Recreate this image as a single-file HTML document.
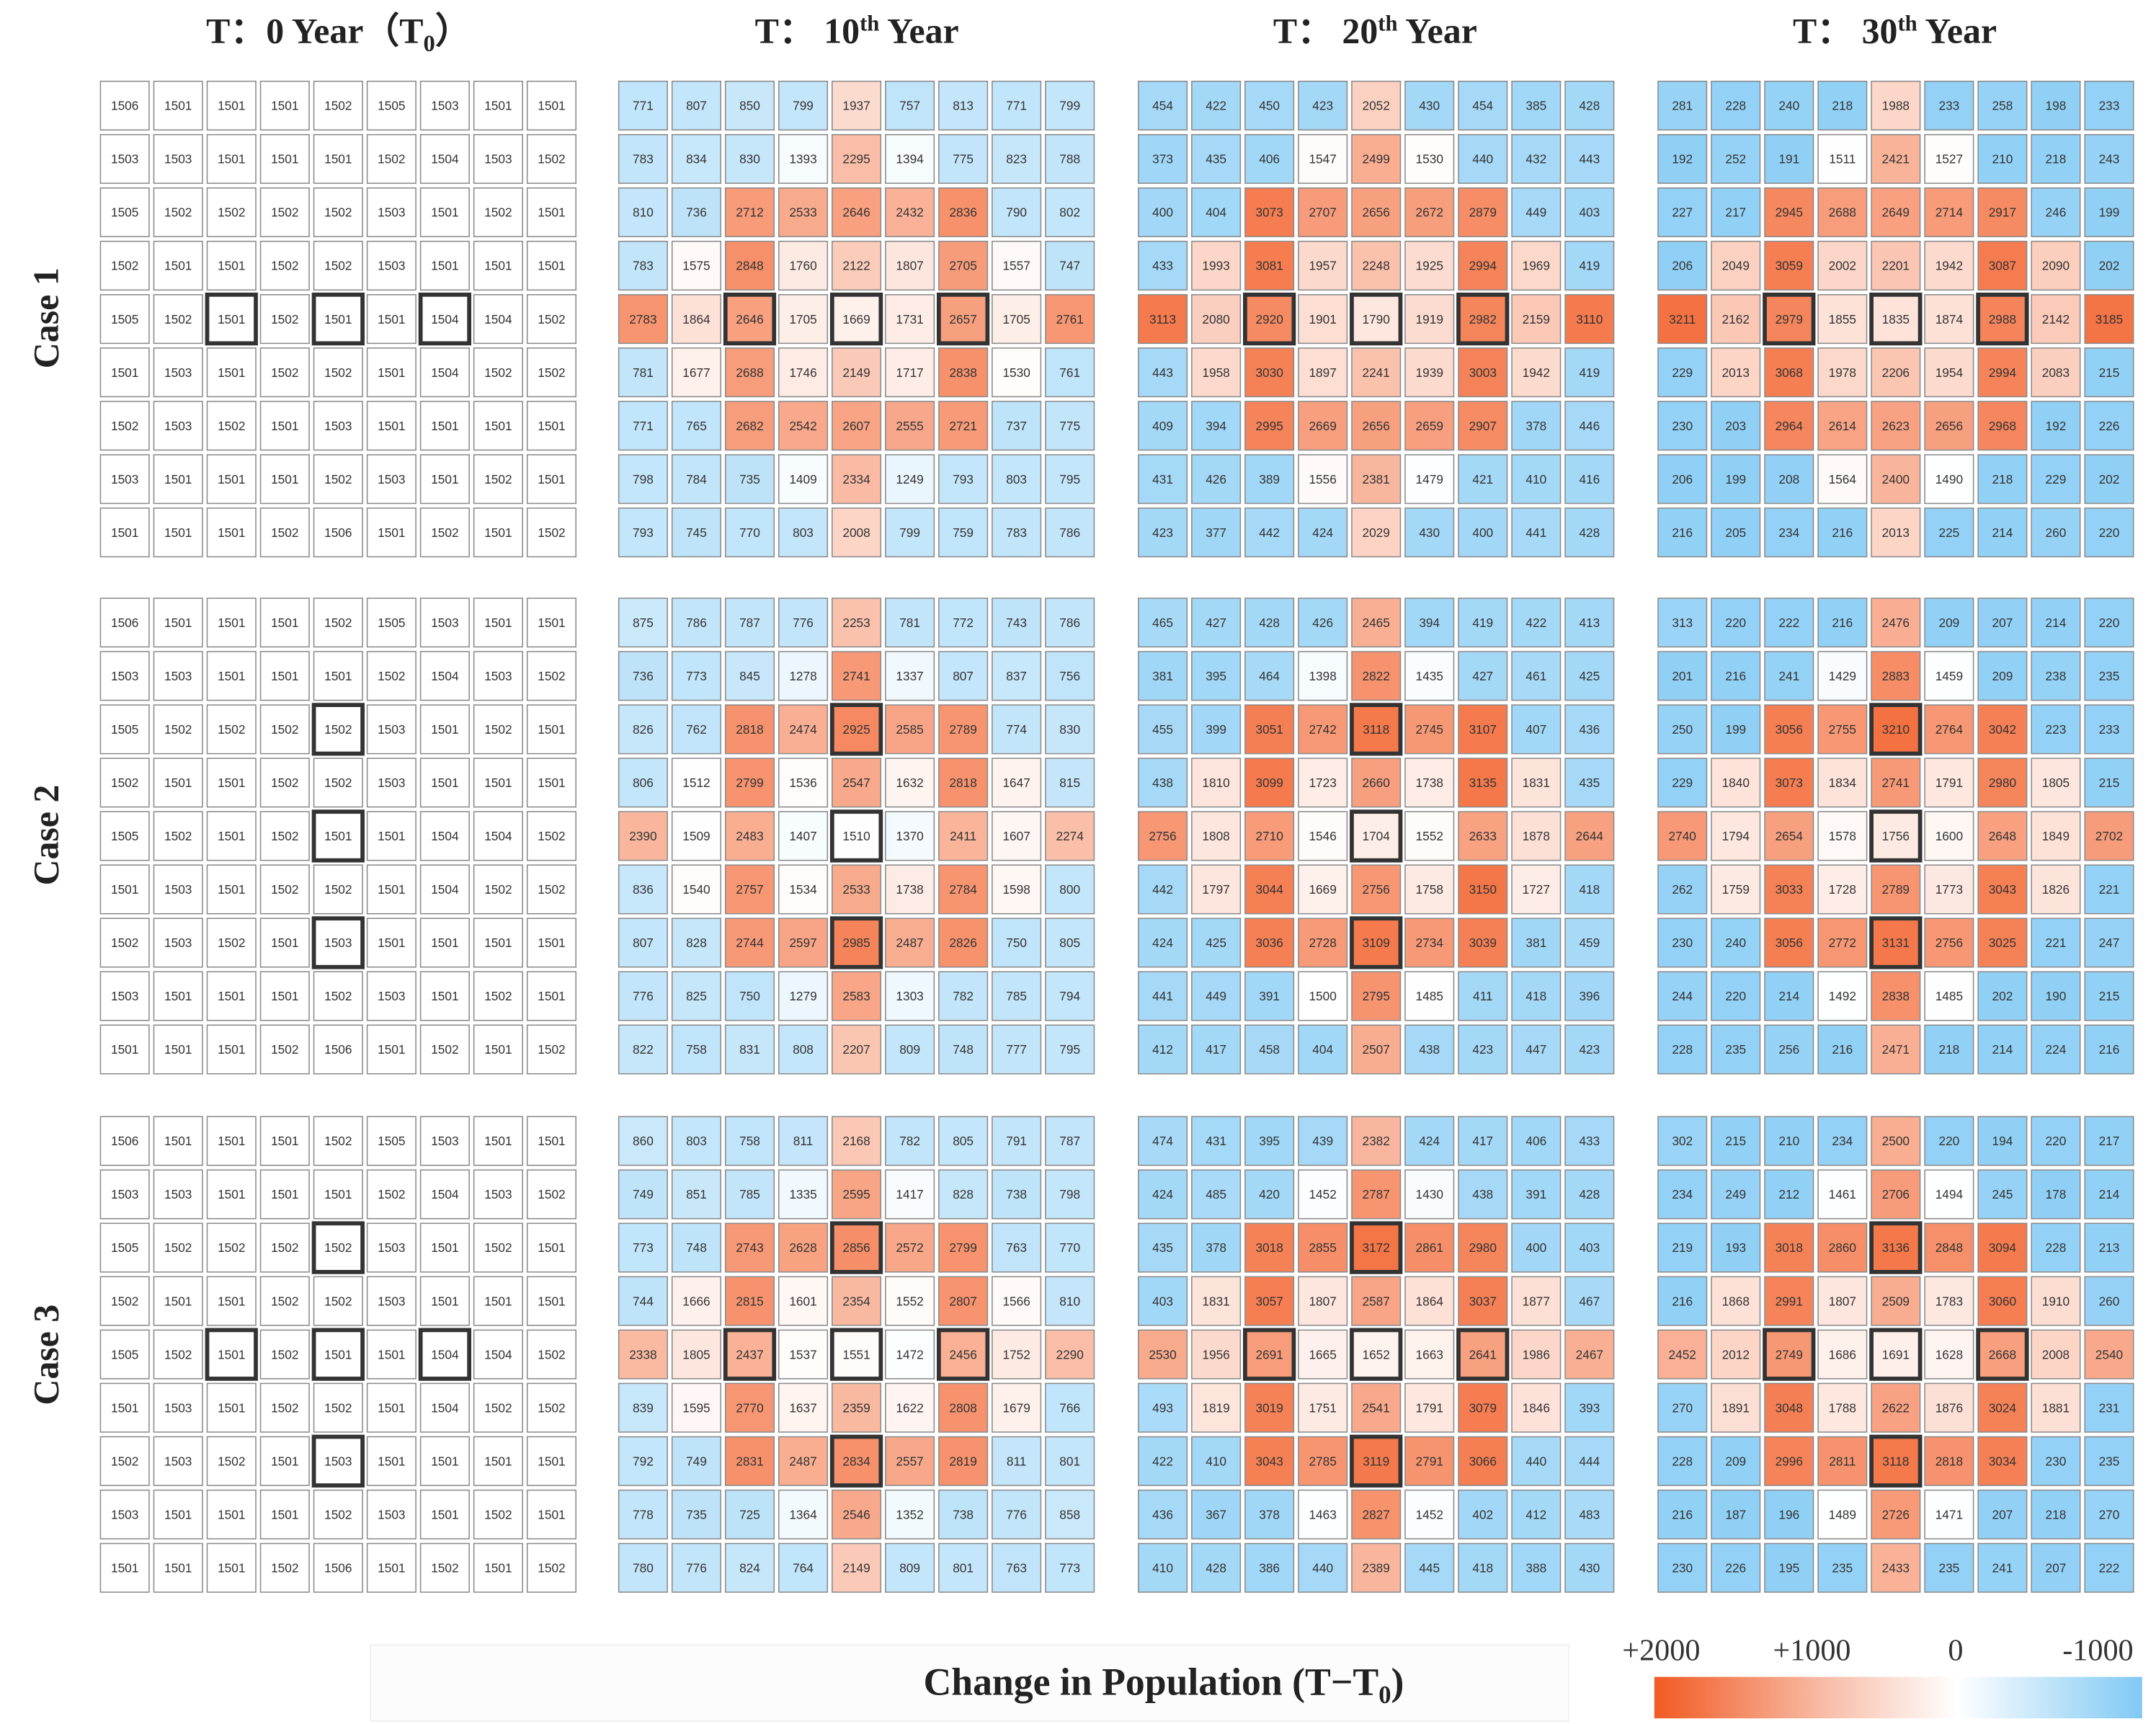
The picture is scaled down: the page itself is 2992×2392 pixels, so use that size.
<!DOCTYPE html>
<html><head><meta charset="utf-8"><style>
html,body{margin:0;padding:0;background:#fff}
svg{display:block}
</style></head><body>
<svg id="chart" xmlns="http://www.w3.org/2000/svg" width="2992" height="2392" viewBox="0 0 1560 1247">
<defs>
<linearGradient id="cbar" x1="0" x2="1" y1="0" y2="0">
<stop offset="0" stop-color="#f25a22"/><stop offset="0.33" stop-color="#f7b7a0"/><stop offset="0.62" stop-color="#ffffff"/><stop offset="1" stop-color="#80c9f4"/>
</linearGradient>
</defs>
<g font-family="Liberation Serif, serif" font-weight="bold" fill="#222" font-size="26">
<text x="245" y="31" text-anchor="middle">T：0 Year（T<tspan font-size="17" dy="6">0</tspan><tspan dy="-6">）</tspan></text>
<text x="620" y="31" text-anchor="middle">T： 10<tspan font-size="16" dy="-9">th</tspan><tspan dy="9"> Year</tspan></text>
<text x="995" y="31" text-anchor="middle">T： 20<tspan font-size="16" dy="-9">th</tspan><tspan dy="9"> Year</tspan></text>
<text x="1371" y="31" text-anchor="middle">T： 30<tspan font-size="16" dy="-9">th</tspan><tspan dy="9"> Year</tspan></text>
<text transform="translate(42,230) rotate(-90)" text-anchor="middle">Case 1</text>
<text transform="translate(42,604) rotate(-90)" text-anchor="middle">Case 2</text>
<text transform="translate(42,980) rotate(-90)" text-anchor="middle">Case 3</text>
</g>
<rect x="268" y="1190" width="867" height="55" fill="#fcfcfc" stroke="#f0f0f0"/>
<text x="842" y="1226" text-anchor="middle" font-family="Liberation Serif, serif" font-weight="bold" font-size="28" fill="#222">Change in Population (T−T<tspan font-size="18" dy="6">0</tspan><tspan dy="-6">)</tspan></text>
<rect x="1197" y="1213" width="353" height="30" fill="url(#cbar)"/>
<g font-family="Liberation Serif, serif" font-size="22" fill="#333" text-anchor="middle">
<text x="1202" y="1201">+2000</text>
<text x="1311" y="1201">+1000</text>
<text x="1415" y="1201">0</text>
<text x="1518" y="1201">-1000</text>
</g>
<g id="grids"></g>
</svg>
<script>
const timeLabels = ["T0","T10","T20","T30"];
const caseLabels = ["case1","case2","case3"];
const baseT0 = [
[1506,1501,1501,1501,1502,1505,1503,1501,1501],
[1503,1503,1501,1501,1501,1502,1504,1503,1502],
[1505,1502,1502,1502,1502,1503,1501,1502,1501],
[1502,1501,1501,1502,1502,1503,1501,1501,1501],
[1505,1502,1501,1502,1501,1501,1504,1504,1502],
[1501,1503,1501,1502,1502,1501,1504,1502,1502],
[1502,1503,1502,1501,1503,1501,1501,1501,1501],
[1503,1501,1501,1501,1502,1503,1501,1502,1501],
[1501,1501,1501,1502,1506,1501,1502,1501,1502]];
const case1T10 = [
[771,807,850,799,1937,757,813,771,799],
[783,834,830,1393,2295,1394,775,823,788],
[810,736,2712,2533,2646,2432,2836,790,802],
[783,1575,2848,1760,2122,1807,2705,1557,747],
[2783,1864,2646,1705,1669,1731,2657,1705,2761],
[781,1677,2688,1746,2149,1717,2838,1530,761],
[771,765,2682,2542,2607,2555,2721,737,775],
[798,784,735,1409,2334,1249,793,803,795],
[793,745,770,803,2008,799,759,783,786]];
const case1T20 = [
[454,422,450,423,2052,430,454,385,428],
[373,435,406,1547,2499,1530,440,432,443],
[400,404,3073,2707,2656,2672,2879,449,403],
[433,1993,3081,1957,2248,1925,2994,1969,419],
[3113,2080,2920,1901,1790,1919,2982,2159,3110],
[443,1958,3030,1897,2241,1939,3003,1942,419],
[409,394,2995,2669,2656,2659,2907,378,446],
[431,426,389,1556,2381,1479,421,410,416],
[423,377,442,424,2029,430,400,441,428]];
const case1T30 = [
[281,228,240,218,1988,233,258,198,233],
[192,252,191,1511,2421,1527,210,218,243],
[227,217,2945,2688,2649,2714,2917,246,199],
[206,2049,3059,2002,2201,1942,3087,2090,202],
[3211,2162,2979,1855,1835,1874,2988,2142,3185],
[229,2013,3068,1978,2206,1954,2994,2083,215],
[230,203,2964,2614,2623,2656,2968,192,226],
[206,199,208,1564,2400,1490,218,229,202],
[216,205,234,216,2013,225,214,260,220]];
const case2T10 = [
[875,786,787,776,2253,781,772,743,786],
[736,773,845,1278,2741,1337,807,837,756],
[826,762,2818,2474,2925,2585,2789,774,830],
[806,1512,2799,1536,2547,1632,2818,1647,815],
[2390,1509,2483,1407,1510,1370,2411,1607,2274],
[836,1540,2757,1534,2533,1738,2784,1598,800],
[807,828,2744,2597,2985,2487,2826,750,805],
[776,825,750,1279,2583,1303,782,785,794],
[822,758,831,808,2207,809,748,777,795]];
const case2T20 = [
[465,427,428,426,2465,394,419,422,413],
[381,395,464,1398,2822,1435,427,461,425],
[455,399,3051,2742,3118,2745,3107,407,436],
[438,1810,3099,1723,2660,1738,3135,1831,435],
[2756,1808,2710,1546,1704,1552,2633,1878,2644],
[442,1797,3044,1669,2756,1758,3150,1727,418],
[424,425,3036,2728,3109,2734,3039,381,459],
[441,449,391,1500,2795,1485,411,418,396],
[412,417,458,404,2507,438,423,447,423]];
const case2T30 = [
[313,220,222,216,2476,209,207,214,220],
[201,216,241,1429,2883,1459,209,238,235],
[250,199,3056,2755,3210,2764,3042,223,233],
[229,1840,3073,1834,2741,1791,2980,1805,215],
[2740,1794,2654,1578,1756,1600,2648,1849,2702],
[262,1759,3033,1728,2789,1773,3043,1826,221],
[230,240,3056,2772,3131,2756,3025,221,247],
[244,220,214,1492,2838,1485,202,190,215],
[228,235,256,216,2471,218,214,224,216]];
const case3T10 = [
[860,803,758,811,2168,782,805,791,787],
[749,851,785,1335,2595,1417,828,738,798],
[773,748,2743,2628,2856,2572,2799,763,770],
[744,1666,2815,1601,2354,1552,2807,1566,810],
[2338,1805,2437,1537,1551,1472,2456,1752,2290],
[839,1595,2770,1637,2359,1622,2808,1679,766],
[792,749,2831,2487,2834,2557,2819,811,801],
[778,735,725,1364,2546,1352,738,776,858],
[780,776,824,764,2149,809,801,763,773]];
const case3T20 = [
[474,431,395,439,2382,424,417,406,433],
[424,485,420,1452,2787,1430,438,391,428],
[435,378,3018,2855,3172,2861,2980,400,403],
[403,1831,3057,1807,2587,1864,3037,1877,467],
[2530,1956,2691,1665,1652,1663,2641,1986,2467],
[493,1819,3019,1751,2541,1791,3079,1846,393],
[422,410,3043,2785,3119,2791,3066,440,444],
[436,367,378,1463,2827,1452,402,412,483],
[410,428,386,440,2389,445,418,388,430]];
const case3T30 = [
[302,215,210,234,2500,220,194,220,217],
[234,249,212,1461,2706,1494,245,178,214],
[219,193,3018,2860,3136,2848,3094,228,213],
[216,1868,2991,1807,2509,1783,3060,1910,260],
[2452,2012,2749,1686,1691,1628,2668,2008,2540],
[270,1891,3048,1788,2622,1876,3024,1881,231],
[228,209,2996,2811,3118,2818,3034,230,235],
[216,187,196,1489,2726,1471,207,218,270],
[230,226,195,235,2433,235,241,207,222]];
const highlightCase1 = [[4,2],[4,4],[4,6]];
const highlightCase2 = [[2,4],[4,4],[6,4]];
const highlightCase3 = [[2,4],[4,2],[4,4],[4,6],[6,4]];

const grids = [
 [baseT0, case1T10, case1T20, case1T30],
 [baseT0, case2T10, case2T20, case2T30],
 [baseT0, case3T10, case3T20, case3T30]];
const highlights = [highlightCase1, highlightCase2, highlightCase3];
const panelX = [71, 446, 822, 1198];
const panelY = [57, 431, 806];
const pitch = 38.6, cellSize = 35.2;
const baseline = 1500;

function mix(a,b,t){return Math.round(a+(b-a)*t);}
function colorFor(v, isBase){
  if (isBase) return "#ffffff";
  const d = v - baseline;
  if (d >= 0){
    const t = Math.min(d/2000,1);
    return `rgb(${mix(255,242,t)},${mix(255,90,t)},${mix(255,34,t)})`;
  } else {
    const t = Math.min(-d/1500,1);
    return `rgb(${mix(255,128,t)},${mix(255,201,t)},${mix(255,244,t)})`;
  }
}
const NS = "http://www.w3.org/2000/svg";
const root = document.getElementById("grids");
for (let c=0;c<3;c++){
  for (let t=0;t<4;t++){
    const g = document.createElementNS(NS,"g");
    
    
    root.appendChild(g);
    const data = grids[c][t];
    const hl = highlights[c];
    for (let r=0;r<9;r++){
      for (let k=0;k<9;k++){
        const v = data[r][k];
        const x = panelX[t] + k*pitch + 1.7;
        const y = panelY[c] + r*pitch + 1.7;
        const rect = document.createElementNS(NS,"rect");
        
        
        rect.setAttribute("x", x); rect.setAttribute("y", y);
        rect.setAttribute("width", cellSize); rect.setAttribute("height", cellSize);
        rect.setAttribute("fill", colorFor(v, t===0));
        const isHl = hl.some(p=>p[0]===r&&p[1]===k);
        rect.setAttribute("stroke", isHl ? "#333" : "#8a8a8a");
        rect.setAttribute("stroke-width", isHl ? 3 : 0.8);
        g.appendChild(rect);
        const tx = document.createElementNS(NS,"text");
        
        
        tx.setAttribute("x", x + cellSize/2);
        tx.setAttribute("y", y + cellSize/2 + 3.2);
        tx.setAttribute("text-anchor","middle");
        tx.setAttribute("font-family","Liberation Sans, sans-serif");
        tx.setAttribute("font-size","9");
        tx.setAttribute("fill","#333");
        tx.textContent = v;
        g.appendChild(tx);
      }
    }
  }
}
</script>
</body></html>
